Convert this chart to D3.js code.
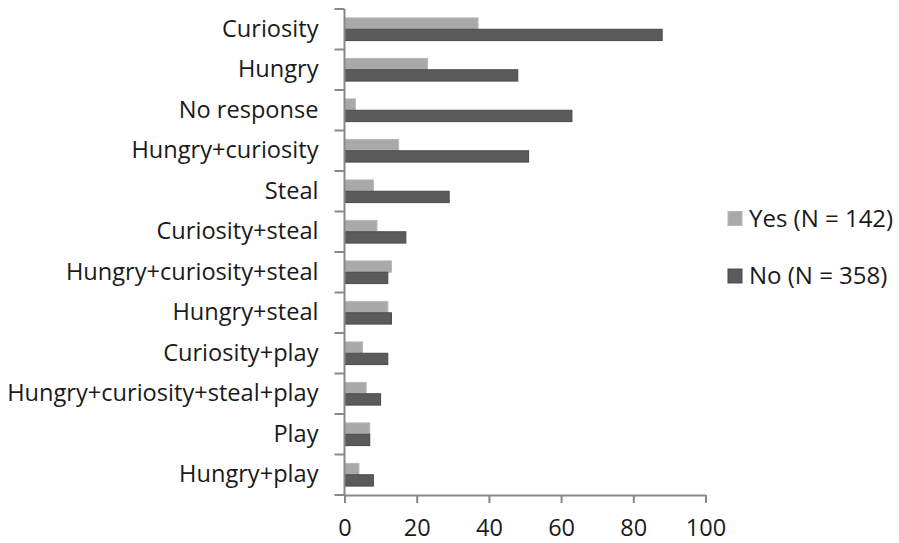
<!DOCTYPE html>
<html>
<head>
<meta charset="utf-8">
<script src="https://cdn.jsdelivr.net/npm/d3@7"></script>
<style>
  html, body { margin: 0; padding: 0; background: #fff; }
  svg { display: block; }
  text { font-family: "Open Sans", Lato, sans-serif; fill: #1a1a1a; }
</style>
</head>
<body>
<svg id="chart" width="899" height="543"></svg>
<script>
// Reasons given, top to bottom
const categories = [
  "Curiosity", "Hungry", "No response", "Hungry+curiosity", "Steal",
  "Curiosity+steal", "Hungry+curiosity+steal", "Hungry+steal",
  "Curiosity+play", "Hungry+curiosity+steal+play", "Play", "Hungry+play"
];
const yesValues = [37, 23, 3, 15, 8, 9, 13, 12, 5, 6, 7, 4];
const noValues  = [88, 48, 63, 51, 29, 17, 12, 13, 12, 10, 7, 8];
const seriesNames = ["Yes (N = 142)", "No (N = 358)"];
const xTicks = [0, 20, 40, 60, 80, 100];

const colors = ["#a9a9a9", "#5b5b5b"];
const strokes = ["#b8b8b8", "#4a4a4a"];
const axisColor = "#888";

const svg = d3.select("#chart");
const plotLeft = 344.5, plotRight = 705.5, plotTop = 9, plotBottom = 495;

const x = d3.scaleLinear().domain([0, 100]).range([plotLeft, plotRight]);
const y = d3.scaleBand().domain(categories).range([plotTop, plotBottom])
  .paddingInner(0.44).paddingOuter(0.22);
const ySub = d3.scaleBand().domain([0, 1]).range([0, y.bandwidth()]);

const rows = categories.map((c, i) => ({ cat: c, vals: [yesValues[i], noValues[i]] }));

// Bars
const g = svg.append("g");
rows.forEach(r => {
  r.vals.forEach((v, s) => {
    g.append("rect")
      .attr("x", x(0))
      .attr("y", y(r.cat) + ySub(s))
      .attr("width", x(v) - x(0))
      .attr("height", ySub.bandwidth())
      .attr("fill", colors[s])
      .attr("stroke", strokes[s])
      .attr("stroke-width", 1);
  });
});

// X axis
const xAxis = svg.append("g")
  .attr("transform", `translate(0,${plotBottom})`)
  .call(d3.axisBottom(x).tickValues(xTicks).tickSize(8).tickSizeOuter(0).tickPadding(16));
xAxis.select(".domain").attr("stroke", axisColor).attr("stroke-width", 2);
xAxis.selectAll(".tick line").attr("stroke", axisColor).attr("stroke-width", 2);
xAxis.selectAll(".tick text").style("font-size", "23.5px").attr("fill", "#1a1a1a");

// Y axis: labels centred on each band, ticks at band boundaries
const yAxis = svg.append("g")
  .attr("transform", `translate(${plotLeft},0)`)
  .call(d3.axisLeft(y).tickSize(0).tickPadding(26));
yAxis.select(".domain").remove();
yAxis.selectAll(".tick text").style("font-size", "23.6px").attr("fill", "#1a1a1a");

const step = y.step();
const bounds = d3.range(categories.length + 1).map(i => plotTop + i * step);
svg.append("g").selectAll("line").data(bounds).join("line")
  .attr("x1", plotLeft - 10).attr("x2", plotLeft)
  .attr("y1", d => d).attr("y2", d => d)
  .attr("stroke", axisColor).attr("stroke-width", 2);
svg.append("line")
  .attr("x1", plotLeft).attr("x2", plotLeft)
  .attr("y1", plotTop).attr("y2", plotBottom + 1)
  .attr("stroke", axisColor).attr("stroke-width", 2);

// Legend
const legend = svg.append("g").attr("transform", "translate(728,0)");
seriesNames.forEach((name, s) => {
  const cy = [218.5, 276][s];
  legend.append("rect")
    .attr("x", 0).attr("y", cy - 7).attr("width", 14).attr("height", 14)
    .attr("fill", colors[s]).attr("stroke", strokes[s]);
  legend.append("text")
    .attr("x", 21).attr("y", cy).attr("dy", "0.35em")
    .style("font-size", "24px").text(name);
});
</script>
</body>
</html>
